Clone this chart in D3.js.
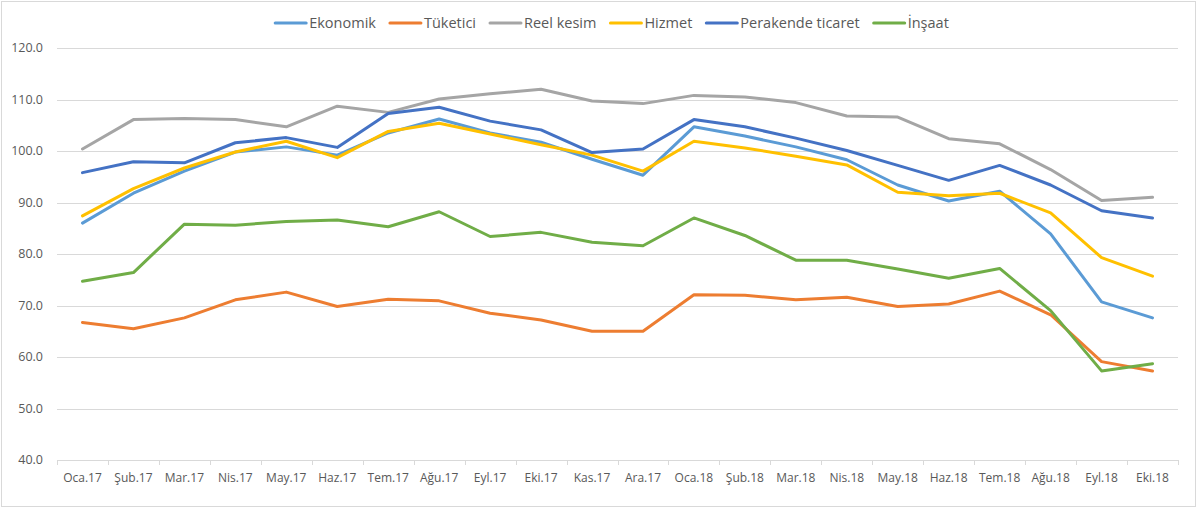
<!DOCTYPE html>
<html>
<head>
<meta charset="utf-8">
<script src="https://cdn.jsdelivr.net/npm/d3@7"></script>
<style>
  body { margin: 0; background: #fff; }
  text { font-family: "Open Sans", "Liberation Sans", sans-serif; }
</style>
</head>
<body>
<div id="chart"></div>
<script>
const months = ["Oca.17", "Şub.17", "Mar.17", "Nis.17", "May.17", "Haz.17", "Tem.17", "Ağu.17", "Eyl.17", "Eki.17", "Kas.17", "Ara.17",
    "Oca.18", "Şub.18", "Mar.18", "Nis.18", "May.18", "Haz.18", "Tem.18", "Ağu.18", "Eyl.18", "Eki.18"];

const ekonomik = [86.0, 91.8, 96.1, 99.8, 100.8, 99.2, 103.5, 106.2, 103.5, 101.7, 98.4, 95.3, 104.7, 102.9, 100.8, 98.3, 93.4, 90.3, 92.2, 83.9, 70.7, 67.6];
const tuketici = [66.7, 65.5, 67.6, 71.1, 72.6, 69.8, 71.2, 70.9, 68.5, 67.2, 65.0, 65.0, 72.1, 72.0, 71.1, 71.6, 69.8, 70.3, 72.8, 68.2, 59.1, 57.3];
const reelKesim = [100.4, 106.1, 106.3, 106.1, 104.7, 108.7, 107.5, 110.1, 111.1, 112.0, 109.7, 109.2, 110.8, 110.5, 109.4, 106.8, 106.6, 102.4, 101.4, 96.4, 90.4, 91.0];
const hizmet = [87.4, 92.7, 96.7, 99.8, 101.9, 98.7, 103.8, 105.4, 103.3, 101.2, 99.2, 96.1, 101.9, 100.6, 99.0, 97.3, 92.0, 91.3, 91.8, 88.0, 79.3, 75.7];
const perakende = [95.8, 97.9, 97.7, 101.6, 102.6, 100.7, 107.3, 108.5, 105.8, 104.1, 99.7, 100.4, 106.1, 104.7, 102.5, 100.1, 97.2, 94.3, 97.2, 93.4, 88.4, 87.0];
const insaat = [74.7, 76.4, 85.8, 85.6, 86.3, 86.6, 85.3, 88.2, 83.4, 84.2, 82.3, 81.6, 87.0, 83.6, 78.8, 78.8, 77.1, 75.3, 77.2, 69.0, 57.3, 58.7];

const seriesNames = ["Ekonomik", "Tüketici", "Reel kesim", "Hizmet", "Perakende ticaret", "İnşaat"];
const seriesValues = [ekonomik, tuketici, reelKesim, hizmet, perakende, insaat];
const seriesColors = ["#5B9BD5", "#ED7D31", "#A5A5A5", "#FFC000", "#4472C4", "#70AD47"];
const yTicks = [40, 50, 60, 70, 80, 90, 100, 110, 120];

const width = 1200;
const height = 517;
const margin = {top: 48, right: 22, bottom: 57, left: 57};

const svg = d3.select("#chart")
    .append("svg")
    .attr("width", width)
    .attr("height", height);

// outer chart frame
svg.append("rect")
    .attr("x", 1.5).attr("y", 1.5)
    .attr("width", width - 6).attr("height", height - 12)
    .attr("fill", "#fff")
    .attr("stroke", "#D9D9D9");

const x = d3.scaleBand()
    .domain(months)
    .range([margin.left, width - margin.right]);

const y = d3.scaleLinear()
    .domain([40, 120])
    .range([height - margin.bottom, margin.top]);

// gridlines
svg.append("g")
    .selectAll("line")
    .data(yTicks)
    .join("line")
    .attr("x1", margin.left)
    .attr("x2", width - margin.right)
    .attr("y1", d => Math.round(y(d)) + 0.5)
    .attr("y2", d => Math.round(y(d)) + 0.5)
    .attr("stroke", "#D9D9D9")
    .attr("stroke-width", 1);

// y labels
svg.append("g")
    .selectAll("text")
    .data(yTicks)
    .join("text")
    .attr("x", margin.left - 14)
    .attr("y", d => y(d))
    .attr("dy", "0.35em")
    .attr("text-anchor", "end")
    .attr("fill", "#595959")
    .style("font-size", "12.5px")
    .text(d => d.toFixed(1));

// x axis tick marks at category boundaries
const boundaries = months.map(m => x(m)).concat([x(months[months.length - 1]) + x.bandwidth()]);
svg.append("g")
    .selectAll("line")
    .data(boundaries)
    .join("line")
    .attr("x1", d => Math.round(d) + 0.5)
    .attr("x2", d => Math.round(d) + 0.5)
    .attr("y1", Math.round(y(40)))
    .attr("y2", Math.round(y(40)) + 5)
    .attr("stroke", "#D9D9D9");

// x labels
svg.append("g")
    .selectAll("text")
    .data(months)
    .join("text")
    .attr("x", d => x(d) + x.bandwidth() / 2)
    .attr("y", y(40) + 22)
    .attr("text-anchor", "middle")
    .attr("fill", "#595959")
    .style("font-size", "12px")
    .text(d => d);

// lines
const line = d3.line()
    .x((d, i) => x(months[i]) + x.bandwidth() / 2)
    .y(d => y(d));

svg.append("g")
    .selectAll("path")
    .data(seriesValues)
    .join("path")
    .attr("fill", "none")
    .attr("stroke", (d, i) => seriesColors[i])
    .attr("stroke-width", 3)
    .attr("stroke-linejoin", "round")
    .attr("stroke-linecap", "round")
    .attr("d", line);

// legend, centered at the top
const legend = svg.append("g");
let lx = 0;
seriesNames.forEach((name, i) => {
    const item = legend.append("g").attr("transform", `translate(${lx},0)`);
    item.append("line")
        .attr("x1", 0).attr("x2", 31)
        .attr("y1", 0).attr("y2", 0)
        .attr("stroke", seriesColors[i])
        .attr("stroke-width", 3)
        .attr("stroke-linecap", "round");
    const t = item.append("text")
        .attr("x", 34)
        .attr("dy", "0.35em")
        .attr("fill", "#595959")
        .style("font-size", "14.5px")
        .text(name);
    lx += 34 + t.node().getComputedTextLength() + 14;
});
const legendWidth = lx - 14;
legend.attr("transform", `translate(${(width - legendWidth) / 2 + 12},23)`);
</script>
</body>
</html>
